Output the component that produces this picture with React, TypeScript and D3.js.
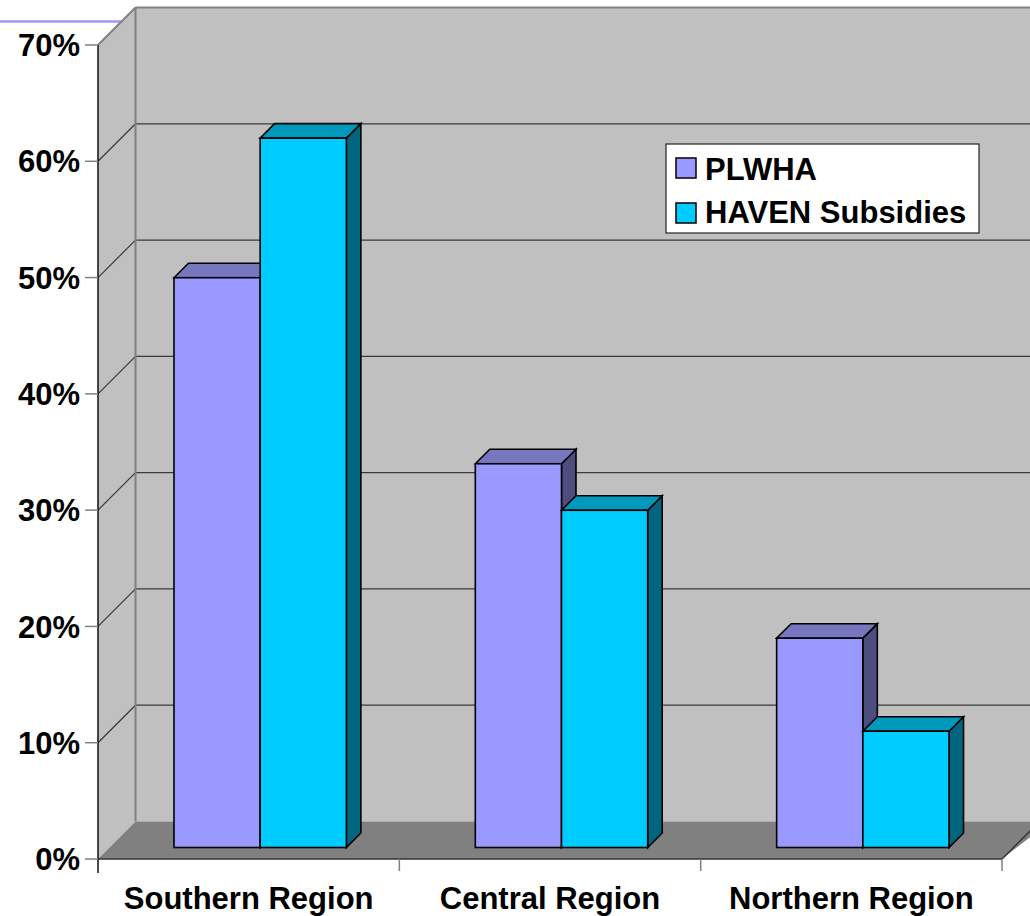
import React from "react";
import * as d3 from "d3";

const categories = ["Southern Region", "Central Region", "Northern Region"];
const seriesNames = ["PLWHA", "HAVEN Subsidies"];
const plwha = [0.49, 0.33, 0.18];
const haven = [0.61, 0.29, 0.10];
const yTicks = [0, 0.1, 0.2, 0.3, 0.4, 0.5, 0.6, 0.7];

const faceColors = [
  { front: "#9999ff", top: "#7777c0", side: "#4d4d80" },
  { front: "#00ccff", top: "#0099bb", side: "#006680" },
];

const W = 1030;
const H = 916;
const left = 98;
const right = 1002;
const depth = 37.5;
const barOffset = 11.5;
const barDepth = 14.5;
const font = "'Liberation Sans', Arial, sans-serif";

export default function App() {
  const y = d3.scaleLinear().domain([0, 0.7]).range([859, 45]);
  const x0 = d3.scaleBand<string>().domain(categories).range([left, right]).padding(0);
  const groupW = x0.bandwidth() * 0.572;
  const x1 = d3.scaleBand<string>().domain(seriesNames).range([0, groupW]).padding(0);
  const seriesValues = [plwha, haven];
  const backRight = W + 20;
  const y0 = y(0);
  const yTop = y(0.7);

  const bars: React.ReactNode[] = [];
  categories.forEach((cat, ci) => {
    seriesNames.forEach((s, si) => {
      const v = seriesValues[si][ci];
      const bx = (x0(cat) as number) + (x0.bandwidth() - groupW) / 2 + (x1(s) as number) + barOffset;
      const bw = x1.bandwidth();
      const top = y(v) - barOffset;
      const bottom = y0 - barOffset;
      const c = faceColors[si];
      const topPts = [
        [bx, top],
        [bx + barDepth, top - barDepth],
        [bx + bw + barDepth, top - barDepth],
        [bx + bw, top],
      ];
      const sidePts = [
        [bx + bw, top],
        [bx + bw + barDepth, top - barDepth],
        [bx + bw + barDepth, bottom - barDepth],
        [bx + bw, bottom],
      ];
      bars.push(
        <g key={cat + s} stroke="#000" strokeWidth={1.6} strokeLinejoin="miter">
          <polygon points={sidePts.map((p) => p.join(",")).join(" ")} fill={c.side} />
          <polygon points={topPts.map((p) => p.join(",")).join(" ")} fill={c.top} />
          <rect x={bx} y={top} width={bw} height={bottom - top} fill={c.front} />
        </g>
      );
    });
  });

  return (
    <svg
      width={W}
      height={H}
      style={{ position: "absolute", left: 0, top: 0, background: "#fff" }}
      fontFamily={font}
    >
      {/* decorative rule at the top left */}
      <line x1={0} y1={21.5} x2={left + (yTop - 21.5)} y2={21.5} stroke="#9999ff" strokeWidth={2.5} />

      {/* back wall */}
      <rect x={left + depth} y={yTop - depth} width={backRight - left - depth} height={y0 - yTop} fill="#c0c0c0" />
      {/* side wall */}
      <polygon
        points={`${left},${yTop} ${left + depth},${yTop - depth} ${left + depth},${y0 - depth} ${left},${y0}`}
        fill="#c0c0c0"
      />
      {/* floor */}
      <polygon
        points={`${left},${y0} ${left + depth},${y0 - depth} ${backRight},${y0 - depth} ${right},${y0}`}
        fill="#808080"
      />

      {/* gridlines on side and back walls */}
      {yTicks.map((t) => {
        const top = t === 0.7;
        const stroke = top ? "#808080" : "#3a3a3a";
        const sw = top ? 2 : 1.2;
        return (
          <g key={t}>
            {t > 0 && (
              <line x1={left} y1={y(t)} x2={left + depth} y2={y(t) - depth} stroke={stroke} strokeWidth={sw} />
            )}
            {t > 0 && (
              <line x1={left + depth} y1={y(t) - depth} x2={backRight} y2={y(t) - depth} stroke={stroke} strokeWidth={sw} />
            )}
          </g>
        );
      })}
      <line x1={left + depth} y1={yTop - depth} x2={left + depth} y2={y0 - depth} stroke="#808080" strokeWidth={2} />

      {bars}

      {/* axes */}
      <line x1={right} y1={y0} x2={right + depth} y2={y0 - depth} stroke="#333" strokeWidth={1.5} />
      <line x1={left} y1={y0} x2={right} y2={y0} stroke="#333" strokeWidth={1.5} />
      <line x1={left} y1={yTop} x2={left} y2={y0 + 14} stroke="#111" strokeWidth={1.5} />
      {yTicks.map((t) => (
        <g key={"yt" + t}>
          <line x1={left - 13} y1={y(t)} x2={left} y2={y(t)} stroke="#808080" strokeWidth={1.5} />
          <text
            x={80}
            y={y(t)}
            dy="0.36em"
            textAnchor="end"
            fontSize={31}
            fontWeight="bold"
            fill="#000"
          >
            {d3.format(".0%")(t)}
          </text>
        </g>
      ))}
      {categories.map((c) => (
        <line
          key={"xt" + c}
          x1={(x0(c) as number) + x0.bandwidth()}
          y1={y0}
          x2={(x0(c) as number) + x0.bandwidth()}
          y2={y0 + 12}
          stroke="#808080"
          strokeWidth={1.5}
        />
      ))}
      {categories.map((c) => (
        <text
          key={"xl" + c}
          x={(x0(c) as number) + x0.bandwidth() / 2}
          y={909}
          textAnchor="middle"
          fontSize={31}
          fontWeight="bold"
          fill="#000"
        >
          {c}
        </text>
      ))}

      {/* legend */}
      <rect x={666} y={144} width={313} height={89} fill="#fff" stroke="#222" strokeWidth={1.2} />
      {seriesNames.map((s, i) => (
        <g key={"lg" + s}>
          <rect
            x={676}
            y={158 + i * 45}
            width={20}
            height={20}
            fill={faceColors[i].front}
            stroke="#000"
            strokeWidth={1.5}
          />
          <text x={705} y={180 + i * 43} fontSize={31} fontWeight="bold" fill="#000">
            {s}
          </text>
        </g>
      ))}
    </svg>
  );
}
